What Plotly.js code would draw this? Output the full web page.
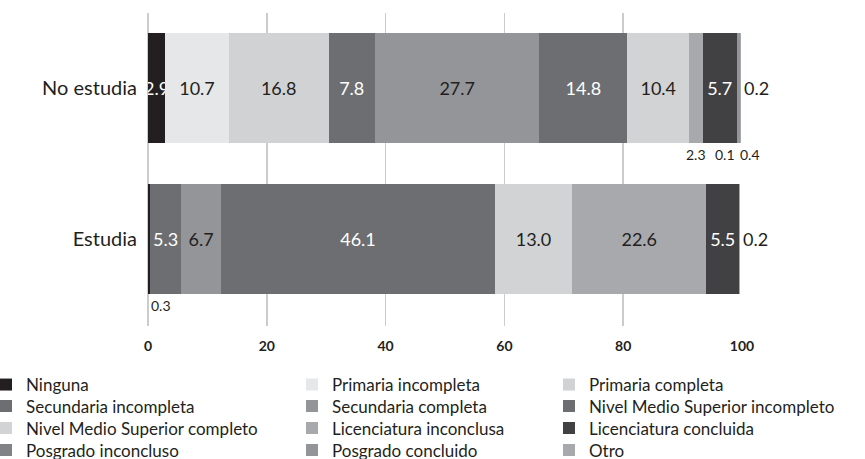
<!DOCTYPE html>
<html>
<head>
<meta charset="utf-8">
<script src="https://cdn.plot.ly/plotly-3.0.1.min.js"></script>
<style>html,body{margin:0;padding:0;background:#fff;}#chart{width:865px;height:459px;}</style>
</head>
<body>
<div id="chart"></div>
<script>
// ---- data ----
const categories = ['No estudia', 'Estudia'];
const seriesNames = [
  'Ninguna', 'Primaria incompleta', 'Primaria completa',
  'Secundaria incompleta', 'Secundaria completa', 'Nivel Medio Superior incompleto',
  'Nivel Medio Superior completo', 'Licenciatura inconclusa', 'Licenciatura concluida',
  'Posgrado inconcluso', 'Posgrado concluido', 'Otro'
];
const valuesNoEstudia = [2.9, 10.7, 16.8, 7.8, 27.7, 14.8, 10.4, 2.3, 5.7, 0.1, 0.4, 0.2];
const valuesEstudia   = [0.3, 0.0, 0.0, 5.3, 6.7, 46.1, 13.0, 22.6, 5.5, 0.0, 0.0, 0.2];
const xTickValues = [0, 20, 40, 60, 80, 100];

// ---- styles ----
const colors = ['#231f20', '#e6e7e8', '#d1d2d4', '#6d6e71', '#939598', '#6d6e71',
                '#d1d3d4', '#a7a9ac', '#414042', '#808285', '#939598', '#a7a9ac'];
const lightText = [true, false, false, true, false, true, false, false, true, true, false, false];
const FONT = 'Lato, "Open Sans", sans-serif';
const DARK = '#231f20';
// labels drawn outside their segment: series index -> placement
const outsidePlacement = [
  { 7: 'below-center', 9: 'below-right', 10: 'below-left', 11: 'right' },
  { 0: 'below-left', 11: 'right' }
];

// plot area in pixels: x 148..742, y 13..326
const PX0 = 148, PW = 594, PY1 = 326, PH = 313;
const px2x = px => (px - PX0) / PW;
const px2y = py => (PY1 - py) / PH;
// legend grid (pixels): text columns and row centres
const legendColX = [-14, 292, 549];
const legendRowY = [385, 406.5, 428.5, 450.5];

const valuesByCat = [valuesNoEstudia, valuesEstudia];
const legendIds = seriesNames.map((_, i) => i === 0 ? 'legend' : 'legend' + (i + 1));

const traces = seriesNames.map((name, i) => {
  const xs = valuesByCat.map(v => v[i]);
  const texts = xs.map((v, c) => (v > 0 && !(i in outsidePlacement[c])) ? v.toFixed(1) : '');
  return {
    type: 'bar', orientation: 'h', name: name,
    x: xs, y: categories,
    marker: { color: colors[i], line: { width: 0 } },
    text: texts, textposition: 'inside', insidetextanchor: 'middle',
    textangle: 0, constraintext: 'none',
    insidetextfont: { family: FONT, size: 18, color: lightText[i] ? '#ffffff' : DARK },
    hoverinfo: 'skip', legend: legendIds[i], showlegend: true
  };
});

// annotations for small values, positioned from cumulative sums
const annotations = [];
valuesByCat.forEach((vals, c) => {
  let start = 0;
  vals.forEach((v, i) => {
    const end = start + v;
    const p = outsidePlacement[c][i];
    if (p && v > 0) {
      const base = { y: categories[c], yref: 'y', xref: 'x', showarrow: false, text: v.toFixed(1) };
      if (p === 'right') {
        annotations.push(Object.assign(base, { x: end, xanchor: 'left', xshift: 1, yanchor: 'middle',
          font: { family: FONT, size: 18, color: DARK } }));
      } else {
        const x = p === 'below-center' ? (start + end) / 2 : (p === 'below-right' ? end : start);
        const xa = p === 'below-center' ? 'center' : (p === 'below-right' ? 'right' : 'left');
        annotations.push(Object.assign(base, { x: x, xanchor: xa, yanchor: 'top', yshift: -56,
          xshift: p === 'below-left' ? 1 : 0,
          font: { family: FONT, size: 14, color: DARK } }));
      }
    }
    start = end;
  });
});

const layout = {
  width: 865, height: 459,
  margin: { l: 148, r: 123, t: 13, b: 133, autoexpand: false },
  paper_bgcolor: '#ffffff', plot_bgcolor: '#ffffff',
  barmode: 'stack', bargap: 0.272,
  font: { family: FONT, color: DARK },
  xaxis: {
    range: [0, 100], tickvals: xTickValues, ticktext: xTickValues.map(String),
    showgrid: true, gridcolor: '#cccccc', gridwidth: 1.5,
    zeroline: true, zerolinecolor: '#cccccc', zerolinewidth: 1.5,
    showline: false, ticks: '', ticklabelstandoff: 10,
    tickfont: { family: FONT, size: 14, color: DARK, weight: 'bold' },
    automargin: false, fixedrange: true
  },
  yaxis: {
    type: 'category', range: [1.576, -0.497],
    showgrid: false, zeroline: false, showline: false, ticks: '',
    ticklabelstandoff: 10, automargin: false,
    tickfont: { family: FONT, size: 20, color: DARK },
    fixedrange: true
  },
  annotations: annotations,
  showlegend: true
};

legendIds.forEach((id, i) => {
  layout[id] = {
    xref: 'paper', yref: 'paper', xanchor: 'left', yanchor: 'middle',
    x: px2x(legendColX[i % 3]), y: px2y(legendRowY[Math.floor(i / 3)]),
    orientation: 'v', bgcolor: 'rgba(0,0,0,0)',
    font: { family: FONT, size: 17, color: DARK }, itemclick: false, itemdoubleclick: false
  };
});

Plotly.newPlot('chart', traces, layout, { displayModeBar: false, staticPlot: true });
</script>
</body>
</html>
